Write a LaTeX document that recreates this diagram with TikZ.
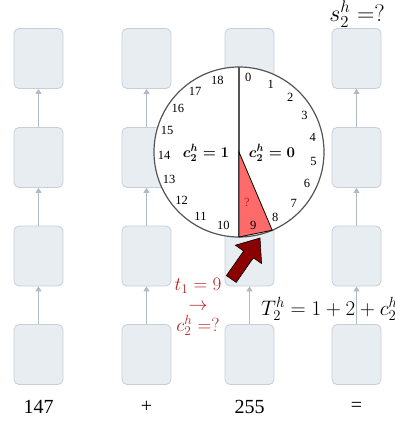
\RequirePackage{fix-cm}
\documentclass[tikz,border=0pt]{standalone}
\usepackage[no-math]{fontspec}
\setmainfont{Liberation Serif}
\usepackage{tikz}
\usetikzlibrary{arrows.meta,calc}
\definecolor{cellFill}{HTML}{E8EDF1}
\definecolor{cellLine}{HTML}{C6CFD8}
\definecolor{linkGray}{HTML}{AEBBC7}
\definecolor{dialLine}{HTML}{555555}
\definecolor{wedgeRed}{HTML}{FF6B6B}
\definecolor{pointerRed}{HTML}{8B0000}
\definecolor{noteRed}{HTML}{B22222}

\begin{document}
\begin{tikzpicture}[
    x=1pt,y=-1pt,
    >=Latex,
    cell/.style={draw=cellLine,fill=cellFill,line width=0.8pt,rounded corners=5pt,
      minimum width=49pt,minimum height=60pt,inner sep=0pt},
    link/.style={linkGray,line width=1pt,-{Triangle[length=5pt,width=6pt]}},
    tick/.style={font=\fontsize{12.5}{14}\selectfont,inner sep=0pt},
    big/.style={font=\fontsize{20}{24}\selectfont},
    mid/.style={font=\fontsize{19}{20.5}\selectfont}
  ]
  \useasboundingbox (0,0) rectangle (395,425);
  %% Columns of cells, read bottom to top
  \foreach \x/\lab [count=\c] in {38.5/147, 146.5/+, 249.5/255, 356.5/=}{
    \foreach \y [count=\r] in {58.5,157.5,256,354.5}{
      \node[cell] (b-\c-\r) at (\x,\y) {};
    }
    \foreach \r/\s in {1/2,2/3,3/4}{
      \draw[link] (b-\c-\s.north) -- (b-\c-\r.south);
    }
    \node[big] (lab-\c) at (\x,407) {\lab};
  }
  \node[font=\fontsize{24}{28}\selectfont] (sq) at (357,14) {$s_2^h=?$};
  %% The dial over the third column
  \coordinate (dial) at (239,152);
  \draw[dialLine,line width=1.2pt,fill=white] (dial) circle[radius=85pt];
  \draw[dialLine,line width=1.2pt] ($(dial)+(-90:85)$) -- ($(dial)+(90:85)$);
  \draw[black,line width=0.8pt,fill=wedgeRed]
    (dial) -- ($(dial)+(90:85)$) -- ($(dial)+(67:85)$) -- cycle;
  \foreach \k in {0,...,9}{
    \pgfmathsetmacro{\a}{7+18*\k-90}
    \node[tick] (n\k) at ($(dial)+(\a:75)$) {\k};
  }
  \foreach \k in {10,...,18}{
    \pgfmathsetmacro{\a}{192+18.9*(\k-10)-90}
    \node[tick] (n\k) at ($(dial)+(\a:75)$) {\k};
  }
  \node[tick,text=noteRed] (q) at (247,202) {?};
  \node[font=\fontsize{15}{18}\selectfont\boldmath,inner sep=1pt] (cone) at (206,153) {$c_2^h=1$};
  \node[font=\fontsize{15}{18}\selectfont\boldmath,inner sep=1pt] (czero) at (272,153) {$c_2^h=0$};
  %% Pointer
  \draw[black,line width=0.6pt,fill=pointerRed]
    (226.4,275.6) -- (243.6,251) -- (235.4,245.2) -- (260,238)
    -- (261.6,263.6) -- (253.4,257.8) -- (236.2,282.4) -- cycle;
  \node[mid,text=noteRed,align=center,inner sep=0pt] (note) at (198,307)
    {$t_1=9$\\$\rightarrow$\\$c_2^h=?$};
  \node[font=\fontsize{21}{24}\selectfont,anchor=west,inner sep=0pt] (tsum) at (261,309) {$T_2^h=1+2+c_2^h$};
\end{tikzpicture}
\end{document}
